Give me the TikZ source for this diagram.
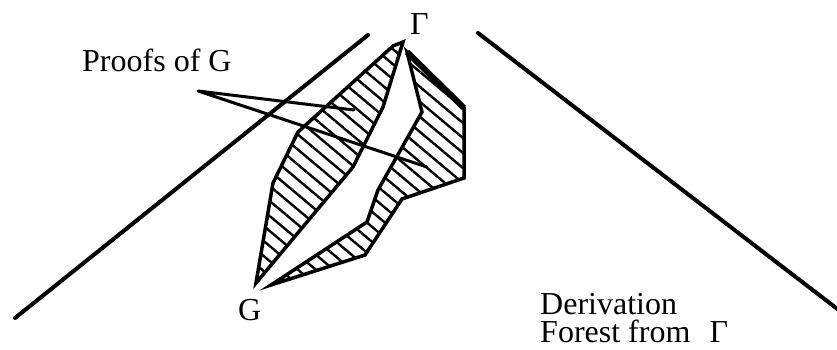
\documentclass[tikz,border=0pt]{standalone}
\usepackage{fontspec}
\setmainfont{Liberation Serif}
\usetikzlibrary{patterns.meta}

\begin{document}
\begin{tikzpicture}[x=1pt, y=-1pt,
  every node/.style={font=\fontsize{32}{28}\selectfont, inner sep=0pt},
  edge/.style={line width=4pt, line cap=round},
  proof/.style={line width=3.5pt, line join=miter,
                pattern={Lines[angle=-40, distance=11.5pt, line width=2.4pt]}},
  pointer/.style={line width=3pt, line cap=round, line join=round}
]
\useasboundingbox (0,0) rectangle (837,350);

% Labels
\node[anchor=base west] (proofs) at (82,72) {Proofs of G};
\node[anchor=base west] (gamma) at (410,35) {Γ};
\node[anchor=base west] (goal) at (238,320) {G};
\node[anchor=north west, align=left] (forest) at (540,293)
  {Derivation\\Forest from\hspace{0.6em}Γ};

% Forest edges
\coordinate (l1) at (15,318);
\coordinate (l2) at (368,35);
\coordinate (r1) at (478,33);
\coordinate (r2) at (840,311);
\draw[edge] (l1) -- (l2);
\draw[edge] (r1) -- (r2);

% Proof 1
\coordinate (a1) at (393,46);
\coordinate (a2) at (403,42);
\coordinate (a3) at (383,107);
\coordinate (a4) at (353,167);
\coordinate (a5) at (256,283);
\coordinate (a6) at (273,183);
\coordinate (a7) at (298,132);
\draw[proof] (a1) -- (a2) -- (a3) -- (a4) -- (a5) -- (a6) -- (a7) -- cycle;

% Proof 2
\coordinate (b1) at (407,52);
\coordinate (b2) at (464,108);
\coordinate (b3) at (464,178);
\coordinate (b4) at (402,199);
\coordinate (b5) at (365,255);
\coordinate (b6) at (271,285);
\coordinate (b7) at (367,222);
\coordinate (b8) at (378,190);
\coordinate (b9) at (422,112);
\draw[proof] (b1) -- (b2) -- (b3) -- (b4) -- (b5) -- (b6) -- (b7) -- (b8) -- (b9) -- cycle;
\draw[line width=6pt] (b1) -- (b2);

% Pointers
\coordinate (tip) at (198,91);
\coordinate (p1) at (354,110);
\coordinate (p2) at (427,167);
\draw[pointer] (p1) -- (tip) -- (p2);

\end{tikzpicture}
\end{document}
